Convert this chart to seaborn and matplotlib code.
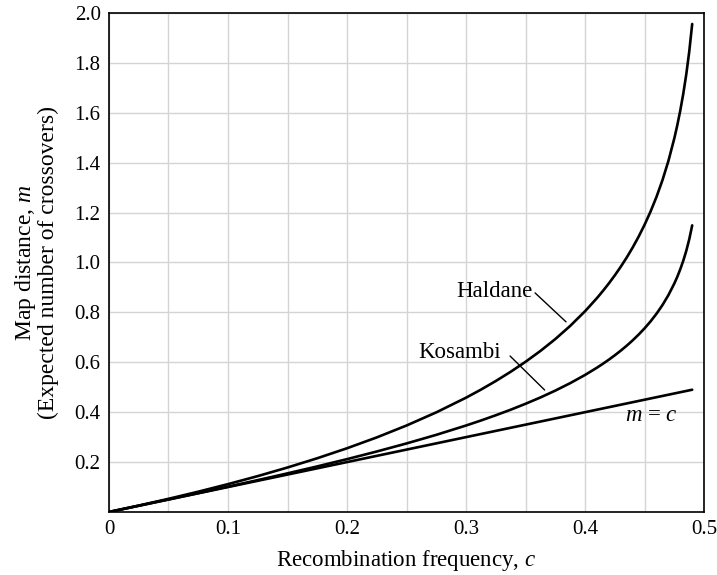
import matplotlib
matplotlib.use("Agg")
import matplotlib.pyplot as plt
import seaborn as sns
import pandas as pd
from matplotlib.ticker import MultipleLocator, FixedLocator

c_vals = [0, 0.025, 0.05, 0.075, 0.1, 0.125, 0.15, 0.175, 0.2, 0.225, 0.25, 0.275,
          0.3, 0.3125, 0.325, 0.3375, 0.35, 0.3625, 0.375, 0.3875, 0.4, 0.41, 0.415,
          0.42, 0.425, 0.43, 0.435, 0.44, 0.445, 0.45, 0.455, 0.46, 0.465, 0.47,
          0.475, 0.4775, 0.48, 0.4825, 0.485, 0.4875, 0.49]
haldane = [0, 0.0257, 0.0527, 0.0813, 0.1116, 0.1438, 0.1783, 0.2154, 0.2554, 0.2989,
           0.3466, 0.3993, 0.4581, 0.4904, 0.5249, 0.5620, 0.6020, 0.6455, 0.6931,
           0.7458, 0.8047, 0.8574, 0.8860, 0.9163, 0.9486, 0.9831, 1.0201, 1.0601,
           1.1036, 1.1513, 1.2040, 1.2629, 1.3296, 1.4067, 1.4979, 1.5506, 1.6094,
           1.6762, 1.7533, 1.8444, 1.9560]
kosambi = [0, 0.0250, 0.0502, 0.0756, 0.1014, 0.1277, 0.1548, 0.1827, 0.2118, 0.2424,
           0.2747, 0.3092, 0.3466, 0.3666, 0.3877, 0.4099, 0.4337, 0.4590, 0.4865,
           0.5164, 0.5493, 0.5784, 0.5941, 0.6106, 0.6281, 0.6467, 0.6666, 0.6879,
           0.7110, 0.7361, 0.7638, 0.7945, 0.8292, 0.8690, 0.9159, 0.9429, 0.9730,
           1.0070, 1.0462, 1.0924, 1.1488]
identity_c = [0, 0.49]
identity_m = [0, 0.49]

x_ticks = [0, 0.1, 0.2, 0.3, 0.4, 0.5]
x_tick_labels = ["0", "0.1", "0.2", "0.3", "0.4", "0.5"]
y_ticks = [0.2, 0.4, 0.6, 0.8, 1.0, 1.2, 1.4, 1.6, 1.8, 2.0]
y_tick_labels = ["0.2", "0.4", "0.6", "0.8", "1.0", "1.2", "1.4", "1.6", "1.8", "2.0"]

sns.set_theme(style="whitegrid")
plt.rcParams["font.family"] = ["Liberation Serif", "DejaVu Serif"]
plt.rcParams["mathtext.fontset"] = "custom"
plt.rcParams["mathtext.rm"] = "Liberation Serif"
plt.rcParams["mathtext.it"] = "Liberation Serif:italic"

fig = plt.figure(figsize=(7.17, 5.75), dpi=100)
ax = fig.add_axes([0.152, 0.1096, 0.83, 0.8678])

df = pd.DataFrame({
    "c": c_vals * 2 + identity_c,
    "m": haldane + kosambi + identity_m,
    "curve": ["Haldane"] * len(c_vals) + ["Kosambi"] * len(c_vals) + ["m = c"] * 2,
})
for name, sub in df.groupby("curve"):
    sns.lineplot(data=sub, x="c", y="m", ax=ax, color="black", lw=1.9,
                 sort=True, estimator=None)

ax.set_xlim(0, 0.5)
ax.set_ylim(0, 2.0)
ax.xaxis.set_major_locator(FixedLocator(x_ticks))
ax.set_xticklabels(x_tick_labels)
ax.xaxis.set_minor_locator(MultipleLocator(0.05))
ax.yaxis.set_major_locator(FixedLocator(y_ticks))
ax.set_yticklabels(y_tick_labels)
ax.grid(True, which="both", color="#d4d4d4", lw=1.0)
ax.set_axisbelow(True)
ax.tick_params(axis="both", which="both", length=0, labelsize=15, colors="black", pad=6)
for s in ax.spines.values():
    s.set_color("black")
    s.set_linewidth(1.2)
    s.set_visible(True)

ax.set_xlabel("Recombination frequency, $c$", fontsize=16.5, color="black", labelpad=6)
ax.set_ylabel("Map distance, $m$\n(Expected number of crossovers)", fontsize=17,
              color="black", labelpad=11, linespacing=1.0)

ax.text(0.356, 0.882, "Haldane", ha="right", va="center", fontsize=16.5, color="black")
ax.plot([0.358, 0.384], [0.878, 0.762], color="black", lw=1.0)
ax.text(0.329, 0.641, "Kosambi", ha="right", va="center", fontsize=16.5, color="black")
ax.plot([0.337, 0.366], [0.625, 0.489], color="black", lw=1.0)
ax.text(0.456, 0.385, "$m$ = $c$", ha="center", va="center", fontsize=16.5, color="black")

fig.savefig("out.png", dpi=100)
